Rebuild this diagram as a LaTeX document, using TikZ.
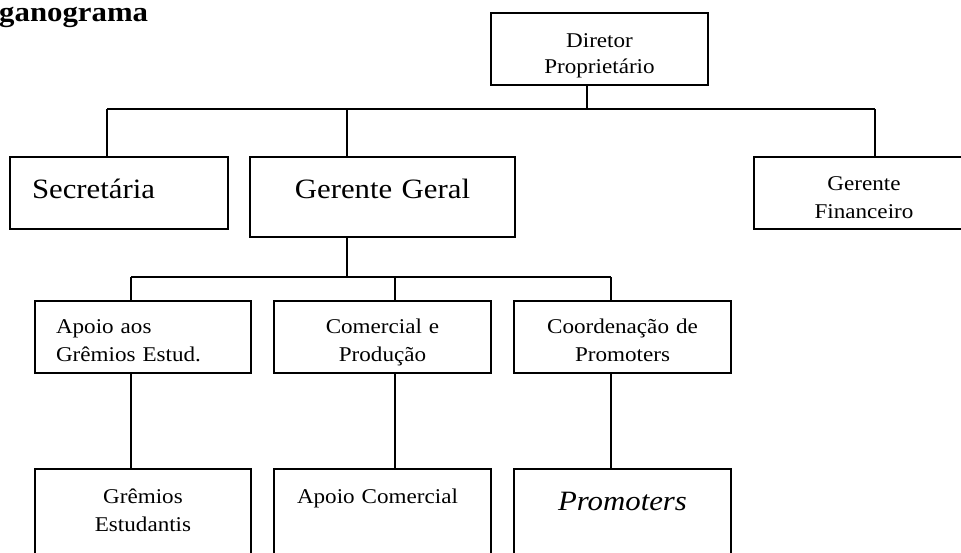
\documentclass[tikz,border=0pt]{standalone}
\usepackage{fontspec}
\setmainfont{Liberation Serif}[FakeStretch=1.1]
\usepackage{tikz}
\newcommand{\orgsmall}{\fontsize{21}{28}\selectfont}
\newcommand{\orgbig}{\fontsize{28}{32}\selectfont}
\tikzset{
  orgbox/.style={draw, line width=1.4pt, inner sep=0pt, outer sep=0pt, anchor=north west, align=center, font=\orgsmall},
  leftbox/.style={orgbox, align=left},
  link/.style={line width=1.2pt},
}

\begin{document}
\begin{tikzpicture}[x=1pt, y=-1pt]
  \useasboundingbox (0,0) rectangle (961,552);

  % Title (cut at the page edge)
  \node[anchor=base west, inner sep=0pt, font=\orgbig\bfseries] (title) at (-1,21) {ganograma};

  % Level 0: director
  \node[orgbox, text width=217pt, text height=34pt, text depth=38pt] (dir) at (491,13) {Diretor\\[-2pt]Proprietário};

  % Level 1
  \node[leftbox, font=\orgbig, inner xsep=22pt, text width=174pt, text height=41pt, text depth=31pt] (sec) at (10,157) {Secretária};
  \node[orgbox, font=\orgbig, text width=265pt, text height=41pt, text depth=39pt] (ger) at (250,157) {Gerente Geral};
  \node[orgbox, text width=220pt, text height=33pt, text depth=39pt] (fin) at (754,157) {Gerente\\Financeiro};

  % Level 2
  \node[leftbox, inner xsep=21pt, text width=174pt, text height=32pt, text depth=40pt] (apo) at (35,301) {Apoio aos\\Grêmios Estud.};
  \node[orgbox, text width=217pt, text height=32pt, text depth=40pt] (com) at (274,301) {Comercial e\\Produção};
  \node[orgbox, text width=217pt, text height=32pt, text depth=40pt] (coo) at (514,301) {Coordenação de\\Promoters};

  % Level 3
  \node[orgbox, text width=216pt, text height=34pt, text depth=67pt] (gre) at (35,469) {Grêmios\\Estudantis};
  \node[leftbox, inner xsep=23pt, text width=171pt, text height=34pt, text depth=67pt] (apc) at (274,469) {Apoio Comercial};
  \node[orgbox, font=\orgbig\itshape, text width=217pt, text height=41pt, text depth=60pt] (pro) at (514,469) {Promoters};

  % Bus lines
  \coordinate (busdir) at (587,109);
  \coordinate (bussec) at (107,109);
  \coordinate (busger) at (347,109);
  \coordinate (busfin) at (875,109);
  \coordinate (busgg) at (347,277);
  \coordinate (busapo) at (131,277);
  \coordinate (buscom) at (395,277);
  \coordinate (buscoo) at (611,277);

  % Connectors
  \draw[link] (dir.south -| busdir) -- (busdir);
  \draw[link] (bussec) -- (busfin);
  \foreach \n in {sec,ger,fin}
    \draw[link] (bus\n) -- (bus\n |- \n.north);

  \draw[link] (ger.south -| busgg) -- (busgg);
  \draw[link] (busapo) -- (buscoo);
  \foreach \n in {apo,com,coo}
    \draw[link] (bus\n) -- (bus\n |- \n.north);

  \draw[link] (apo.south -| busapo) -- (gre.north -| busapo);
  \draw[link] (com.south -| buscom) -- (apc.north -| buscom);
  \draw[link] (coo.south -| buscoo) -- (pro.north -| buscoo);

\end{tikzpicture}
\end{document}
